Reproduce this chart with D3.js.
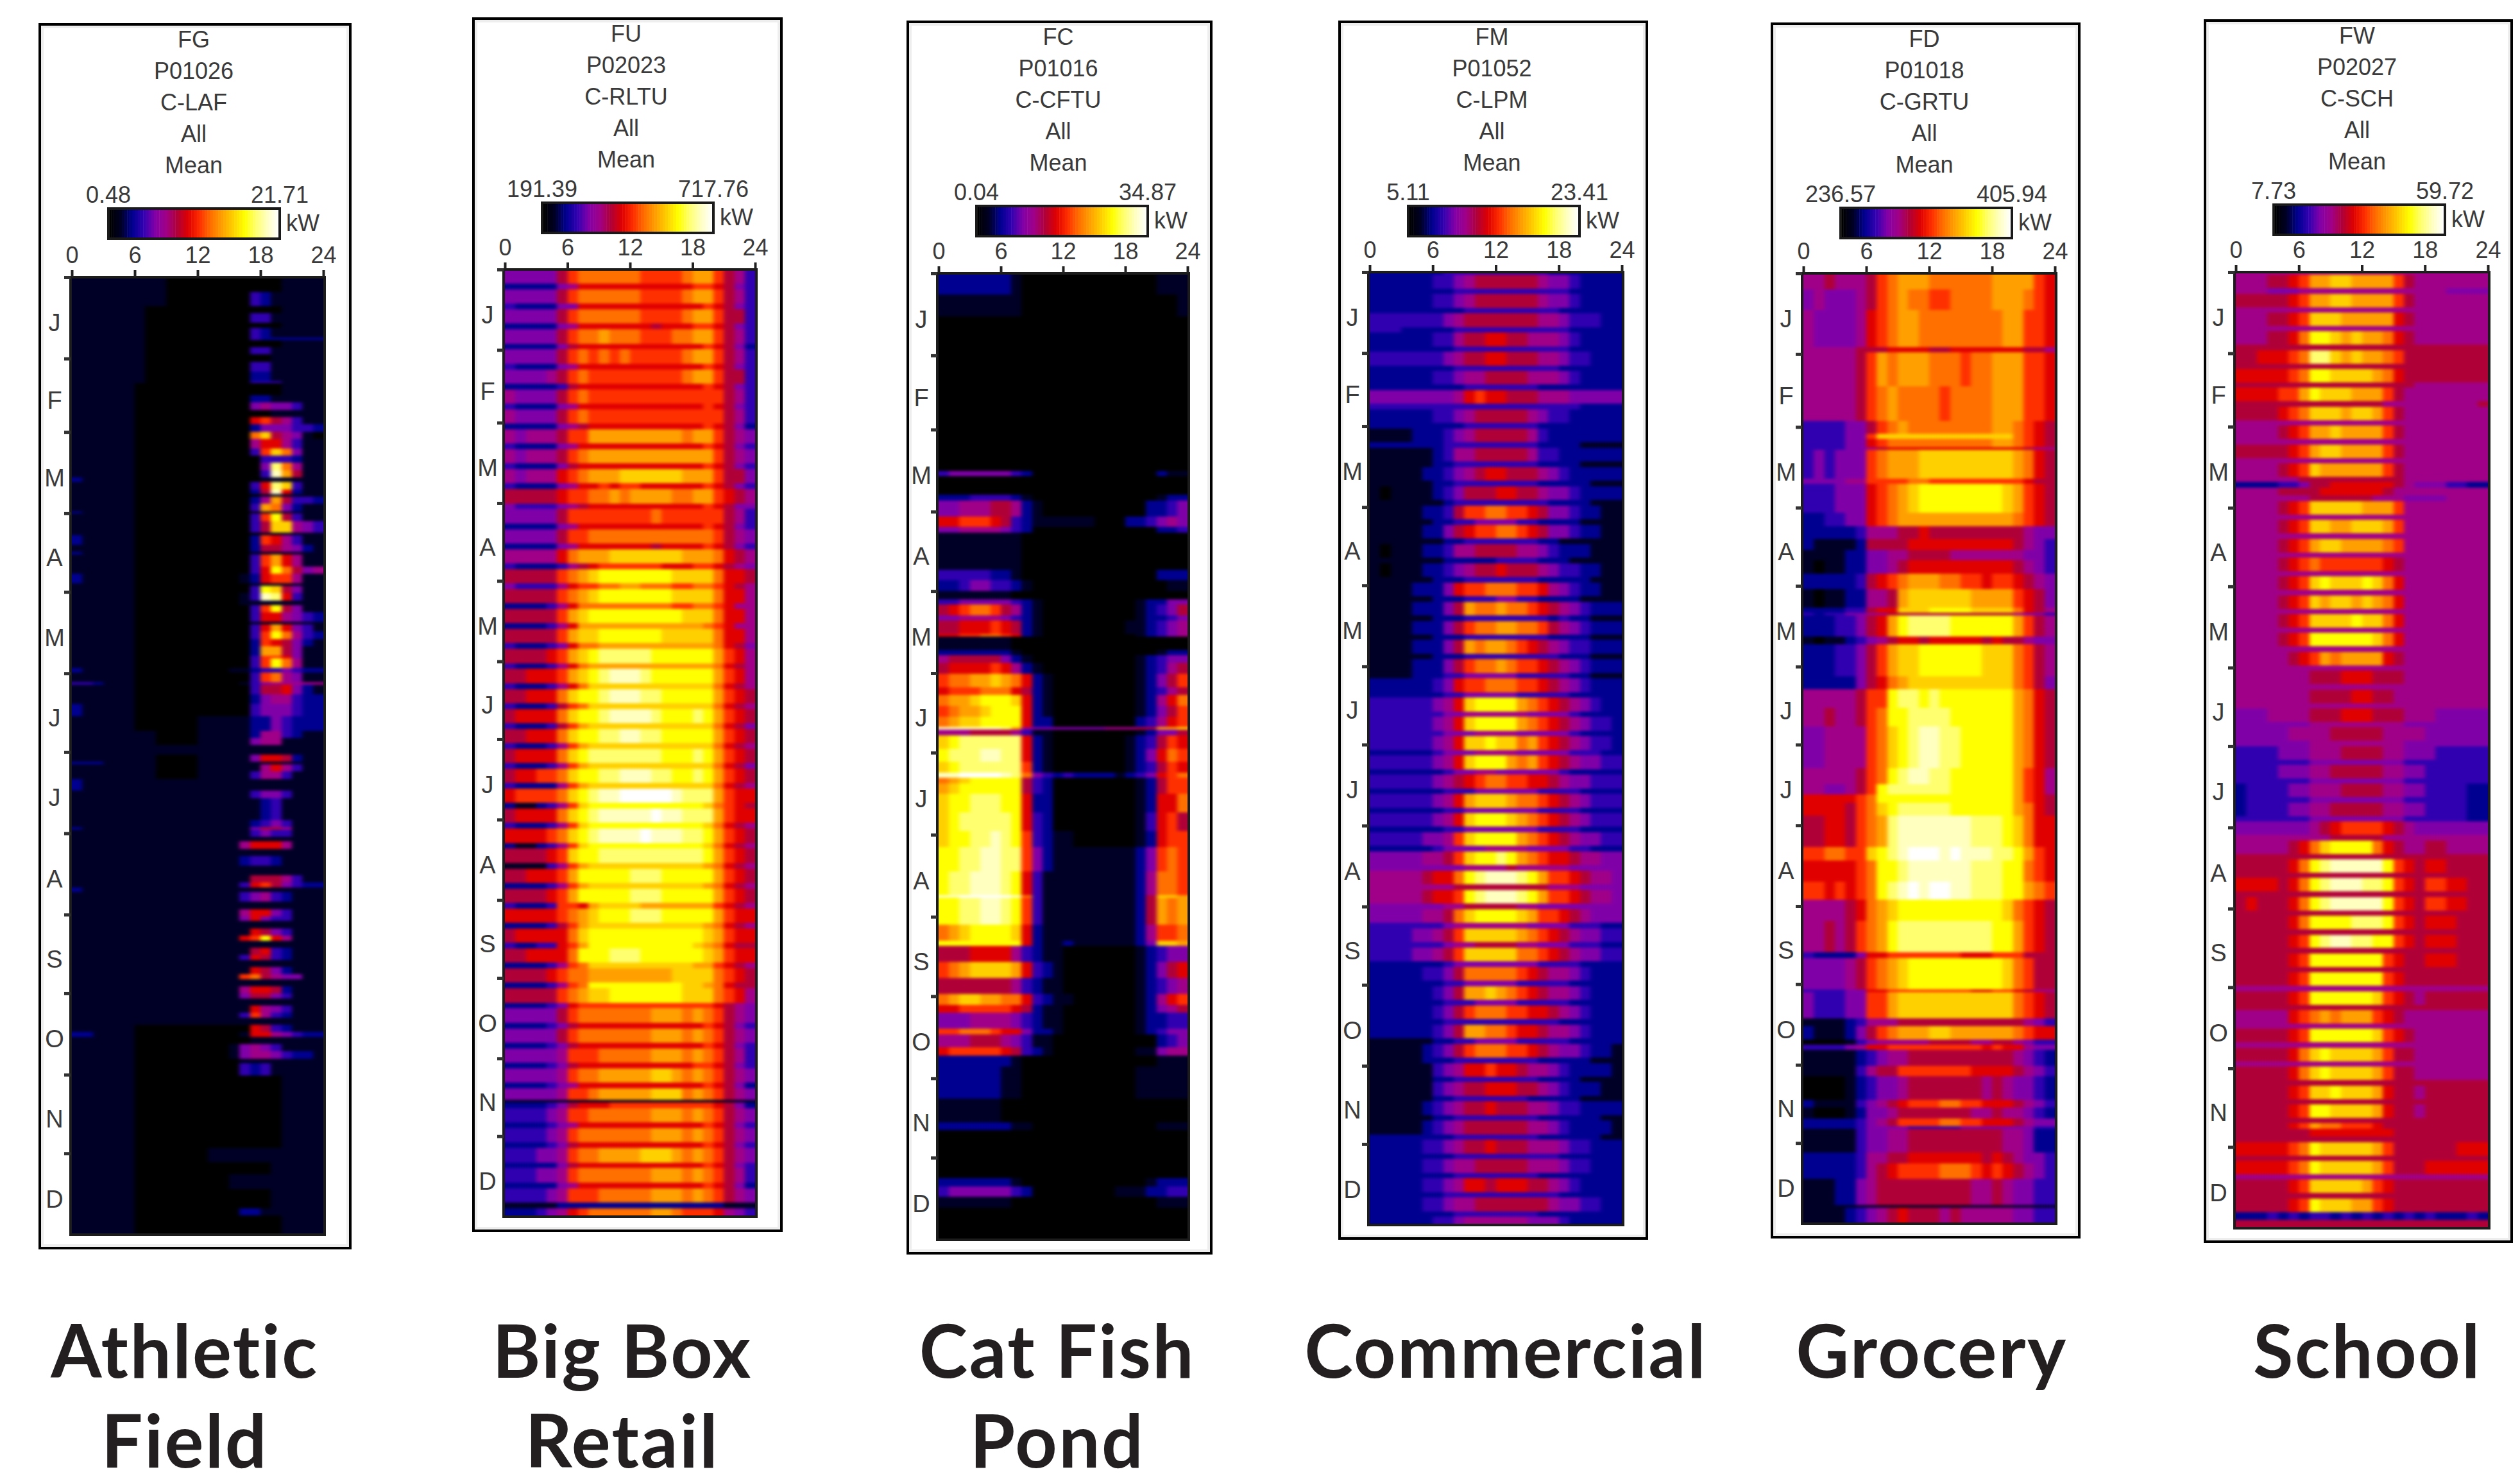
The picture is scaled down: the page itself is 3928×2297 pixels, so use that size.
<!DOCTYPE html>
<html>
<head>
<meta charset="utf-8">
<script src="https://cdn.jsdelivr.net/npm/d3@7"></script>
<style>
body { margin: 0; background: #fff; }
text { font-family: "Liberation Sans", Arial, sans-serif; fill: #3a3a3a; }
.caption { font-family: Lato, sans-serif; font-weight: 700; fill: #231f20; letter-spacing: 2.5px; }
</style>
</head>
<body>
<div id="chart"></div>
<script>
var width = 3928, height = 2297;

var months = ["J","F","M","A","M","J","J","A","S","O","N","D"];
var monthStarts = [0,31,59,90,120,151,181,212,243,273,304,334];
var monthLengths = [31,28,31,30,31,30,31,31,30,31,30,31];
var hourTicks = [0,6,12,18,24];

var feeders = ["FG","FU","FC","FM","FD","FW"];
var circuits = ["P01026","P02023","P01016","P01052","P01018","P02027"];
var rateCodes = ["C-LAF","C-RLTU","C-CFTU","C-LPM","C-GRTU","C-SCH"];
var minKw = [0.48,191.39,0.04,5.11,236.57,7.73];
var maxKw = [21.71,717.76,34.87,23.41,405.94,59.72];
var captions = [["Athletic","Field"],["Big Box","Retail"],["Cat Fish","Pond"],["Commercial"],["Grocery"],["School"]];

// colour bar, low to high
var colorStops = ["#000000","#000026","#000090","#3000b0","#8000a8","#a00088","#b00038","#e00000",
                  "#ff3000","#ff7000","#ffa000","#ffd000","#ffff00","#ffff70","#ffffc0","#ffffff"];

// each row: number of days, then 24 hourly levels (hex, 0 = min kW, f = max kW)
var athleticRows = [
"6 111111 111000 000000 001111","6 111111 111000 000003 211111","3 111111 100000 000000 001111",
"4 111111 100000 000003 311111","2 111111 100000 000000 001111","4 111111 100000 000003 211111",
"1 111111 100000 000003 222222","3 111111 100000 000000 001111","3 111111 100000 000003 311111",
"3 111111 100000 000000 011111","4 111111 100000 000003 311111","4 111111 100000 000002 211111",
"1 111111 100000 000003 331111","5 111111 000000 000000 001111","3 111111 000000 000002 211111",
"3 111111 000000 000004 544311","3 111111 000000 000000 011111","3 111111 000000 000007 865311",
"3 111111 000000 000002 444332","3 111111 000000 000009 b65410","4 111111 000000 000005 775311",
"3 111111 000000 000003 8b9411","3 111111 000000 000000 333211","3 111111 000000 000000 4d9511",
"3 111111 000000 000000 3ea611","2 211111 000000 000000 111111","3 111111 000000 000003 7db311",
"2 111111 000000 000002 6e7211","1 111111 000000 000000 111111","3 111111 000000 000002 5a6332",
"3 111111 000000 000003 a94211","1 211111 000000 000000 111111","3 111111 000000 000003 8c6311",
"5 111111 000000 000003 6bb543","1 111111 000000 000000 111111","4 211111 000000 000002 875311",
"3 111111 000000 000002 665421","1 211111 000000 000001 111111","5 111111 000000 000003 8a7511",
"3 111111 000000 000003 7c9645","4 211111 000000 000012 788511","1 111111 000000 000001 111111",
"3 111111 000000 000003 cb6411","3 111111 000000 000013 ed7311","2 111111 000000 000011 111111",
"3 111111 000000 000003 8c6411","4 111111 000000 000003 775432","1 111111 000000 000001 111111",
"3 111111 000000 000003 7a7431","3 111111 000000 000003 8c9532","3 111111 000000 000002 876421",
"4 111111 000000 000002 aa6411","1 111111 000000 000003 887411","4 111111 000000 000003 8c9511",
"2 211111 000000 000112 334322","4 111111 000000 000003 895411","1 332111 000000 000013 455555",
"4 111111 000000 000003 667421","4 111111 000000 000002 455322","5 211111 000000 000003 444322",
"6 111111 000000 111112 243222","3 111111 110000 111112 553211","3 111111 110000 111114 551111",
"4 111111 111111 111111 111111","3 111111 110000 111114 776211","1 222111 110000 111111 111111",
"3 111111 110000 111111 575311","3 111111 110000 111113 553111","5 211111 111111 111111 111111",
"3 111111 111111 111113 443111","9 111111 111111 111111 231111","3 111111 111111 111112 343111",
"1 211111 111111 111114 665111","3 111111 111111 111113 433111","2 111111 111111 111111 111111",
"3 111111 111111 111157 775111","3 111111 111111 111111 111111","4 111111 111111 111123 321111",
"4 111111 111111 111111 111111","3 111111 111111 111116 665311","2 111111 111111 111137 864322",
"2 211111 111111 111111 111111","4 111111 111111 111134 532111","3 111111 111111 111111 111111",
"3 111111 111111 111157 743111","2 111111 111111 111147 433111","3 111111 111111 111111 111111",
"3 111111 111111 111117 643111","2 111111 111111 111178 c75111","3 111111 111111 111111 111111",
"3 111111 111111 111116 732111","2 111111 111111 111137 632111","3 111111 111111 111111 111111",
"3 111111 111111 111117 642111","2 111111 111111 111189 654411","3 111111 111111 111111 111111",
"3 111111 111111 111157 762111","2 111111 111111 111146 643111","3 111111 111111 111111 111111",
"3 111111 111111 111117 543111","2 111111 111111 111138 532111","3 111111 111111 111111 111111",
"3 111111 000000 000007 632111","2 221111 000000 000017 754322","3 111111 000000 000001 111111",
"3 111111 000000 000145 431111","3 111111 000000 000145 543221","2 111111 000000 000011 111111",
"5 111111 000000 000032 311111","30 111111 000000 000000 001111","6 111111 000000 011111 111111",
"5 111111 000000 000000 011111","6 111111 000000 000111 111111","8 111111 000000 000000 011111",
"3 111111 000000 000022 111111","8 111111 000000 000000 001111"];

var bigBoxRows = [
"5 444446 899999 988889 aa8653","2 222224 577777 777777 887643","5 444446 899999 988889 aa8653","2 322224 477777 777777 787643",
"5 444446 899999 988889 aa8663","2 222224 577777 776777 887643","5 444446 899a99 988899 aa8653","2 222224 677777 777777 787642",
"5 444446 898989 888889 aa8653","2 322224 577777 777777 787643","5 444456 898888 888889 aa8663","2 222223 677777 777777 787643",
"5 544446 898888 888888 888653","2 322224 577777 777777 787643","5 544446 898888 888888 888653","2 222224 567777 777777 787642",
"5 545556 88aaaa aaaaa9 aa8654","2 322224 577777 777777 787643","5 545556 89aaaa aaaaaa aa8654","2 322224 677777 777777 787643",
"5 545557 89aaab bbbbba aa8664","2 322224 577878 877777 787643","5 666667 8899a9 aaaa99 aa8765","2 433334 567777 777777 787644",
"5 444446 888888 889888 888653","2 222224 577777 777777 787643","5 444446 889999 999999 998654","2 222224 577777 776777 787643",
"5 555557 9aaabb bbbbba aa9765","2 322223 567888 888777 887654","5 666668 9abccc ccccbb bb9776","2 433335 78899a a99988 998765",
"5 666668 9abccc ccccbb bb9775","2 222235 799999 999988 998755","5 666668 abcccc cccccb bb9775","2 222235 7aaaaa aaaaaa a98755",
"5 666668 abbccc cccbbb bb9775","2 322234 799aaa aaaaaa aa9764","5 666678 abcddd ddcccc cca875","2 322235 79aaaa aaaaaa aa9765",
"5 667778 abcdee edcccc cca875","2 322235 79bbbb bbbbbb bb9765","5 667779 bccdee eddccc cca876","2 322236 89bbbb bbbbbb bb9765",
"5 677779 bccdee eedccc dca876","2 322236 8abbbb bbbbbb bb9764","5 667779 bccdde eddccc cca876","2 322235 8abbbb bbbbbb bb9765",
"5 677779 bcdddd dddccc dca876","2 322235 8abbbb bbbbbb bb9764","5 677889 bccdde eeddcc dca876","2 322225 8abbbb bbbbbb bb9765",
"5 788889 bcdeef ffffed dda877","2 211235 8bcccc cccccc cb9876","5 677779 bcdeee eefeed dda877","2 322235 8bcccc cccccc cb9765",
"5 777789 bcdeee efeeed dca876","2 211235 8bcccc cccccc cb9765","5 666678 bccddd dddddd dca876","2 111135 8abbbb bbbbbb ba9765",
"5 667778 accccc dddccc cca876","2 222235 8abbbb bbbbbb ba9765","5 666678 accccc dddccc cca876","2 322238 87abbb baaaaa aa8765",
"5 777778 9abccc dddccc cca877","2 222236 8abbbb bbbbbb ba9765","5 677777 9bcccc cccccc cba877","2 322337 8acccc cccccc ba9766",
"5 667777 9cccdd dccccc cba877","2 222235 89bbbb bbbbbb aa8765","5 666678 99aaaa aaaabb bb9876","2 222235 89cccc cccccb ba9766",
"5 666668 9abbcc cccccb bb9875","2 222234 788888 888888 887654","5 444446 899999 99aaa9 a98654","2 222234 677777 777777 787643",
"5 444446 899999 99aaa9 a98654","2 222234 677777 777777 787643","5 444445 888999 99aaa9 a98653","2 222234 677777 777777 887643",
"5 444445 899aaa aabba9 a98654","2 222234 577777 777777 787642","4 444445 889aaa aabbb9 a98654","1 111111 111111 111111 111111",
"2 222234 677788 888888 887642","5 333345 889999 99aaa9 a98654","2 222234 577777 777777 787643","5 333345 899999 99aaa9 a98654",
"2 222234 677777 777777 787643","5 333445 899aaa abbba9 a98654","2 222224 677777 777777 787643","5 333445 899999 99aaa9 a98653",
"2 222224 577777 777777 787642","5 333345 888999 99aaa9 a98654","2 111112 222222 222222 222111","3 222345 789999 99aa98 887543"];

var catFishRows = [
"8 222222 210000 000000 000111","8 111111 110000 000000 000001","58 000000 000000 000000 000000",
"2 344444 432000 000000 000211","7 000000 000000 000000 000000","2 222333 321000 000000 000122",
"6 445556 652100 000000 002234","4 778887 632111 111000 223454","2 445555 432000 000000 000223",
"14 111111 110000 000000 000000","4 333332 210000 000000 000222","4 223443 321000 000000 000011",
"3 111111 100000 000000 000000","2 334444 432100 000000 012244","4 678998 652100 000000 012346",
"2 445555 432100 000000 012234","5 667778 762100 000000 112345","1 778899 872100 000000 012345",
"5 111111 100000 000000 000000","2 222222 210000 000000 000122","3 566666 421000 000000 012344",
"4 677778 752100 000000 012356","5 899aab a97210 000000 012468","3 788899 976210 000000 012356",
"4 9aabcc cb7210 000000 012579","4 89aabc cc7210 000000 012468","4 9abbcc cc7220 000000 023578",
"1 eeeeee da5444 444455 566aab","2 555666 653110 000000 012446","5 bcdddd dd7210 000000 123687",
"5 cdddee dd7210 000000 124798","4 bcdddd dd8210 000000 123687","2 eeffff ed9432 322221 234789",
"2 9abccc cc6320 000000 012688","4 abcccc cc6320 000000 012688","7 bccddd cc7220 000000 012779",
"7 bcdddd dc7320 000000 013786","6 bccdde dc8321 100000 012788","9 ccddee dd8421 111111 124898",
"9 cddeee dc7311 111111 125998","1 eeffff fe9311 111111 126bba","10 ccddee dc8311 111111 126a9a",
"6 9abccc cb7211 111111 125889","2 cccccc cc7211 211111 124bba","6 666777 753211 000000 012344",
"6 89abbb ba7321 000000 012467","6 666666 653211 000000 012345","4 9abbaa 997321 100000 012578",
"3 778888 876211 000000 012456","6 444555 543211 000000 012233","2 889998 774221 000000 012344",
"5 555666 543110 000000 000234","3 788888 763210 000000 011455","4 222222 210000 000000 000111",
"12 222222 110000 000000 011111","9 111111 000000 000000 000000","3 222222 211000 000000 000111",
"18 000000 000000 000000 000000","3 222222 210000 000000 001222","4 344444 432000 000001 112233",
"4 111111 100000 000000 000111","12 000000 000000 000000 000000"];

var commercialRows = [
"1 222222 233333 333332 222222","5 222222 334566 666654 432222","2 222222 223333 333333 322222","5 222222 334566 666654 432222",
"2 222222 222333 333333 222222","5 333333 345666 666655 433322","2 333222 223333 333333 322222","5 222222 335667 766555 432222",
"2 222222 223333 333333 322222","5 333333 345667 766655 433222","2 222222 223333 333333 222222","5 222222 334556 666555 432222",
"2 222222 222333 333322 222222","5 444444 445787 766655 544444","2 333333 333333 333333 332222","5 222222 334566 666543 322222",
"2 222222 222333 333322 222222","5 111122 234566 666532 222222","2 222222 233333 333322 221111","5 111111 235566 666533 222222",
"2 111111 223333 333322 221111","5 111112 234567 766654 322222","2 111111 223333 333322 222111","5 101111 234666 776654 432222",
"2 111111 123333 333332 222111","5 111112 236889 988764 432211","2 111111 223344 443322 221111","5 111112 246788 998764 432211",
"2 111111 122333 333322 111111","5 101112 235566 665543 222111","2 111111 122222 333322 211111","5 101112 234566 766654 332211",
"2 111111 222333 333322 222111","5 111122 247889 998875 432211","2 111111 222333 443322 221111","5 111122 246a99 a99876 543222",
"2 111111 222333 333332 322111","5 111122 246899 aa9986 543222","2 111111 222333 333332 222111","5 111122 246a9a a98765 433222",
"2 111111 222333 333333 222111","5 111122 246899 a98876 543222","2 111122 233444 443333 322111","5 222222 347889 998876 543222",
"2 222222 233444 443333 322222","5 333333 457bcc cca987 654322","2 333333 344555 555444 432222","5 333333 457bcc cca987 654332",
"2 333333 344455 554444 432222","5 333333 457bbc bb9a87 654332","2 222222 344455 554444 433322","5 333333 457bcc ca9a87 654433",
"2 222222 234455 444444 322222","5 333333 456789 988776 544333","2 222222 233344 444433 332222","5 333333 457abb ba9987 654333",
"2 222222 233444 444433 332222","5 333333 457bcc cba987 654333","2 222222 233444 444433 332222","5 333334 458bcc cca987 654433",
"2 222222 344445 555444 433222","5 444445 568bcc dca987 765544","2 444444 444555 565555 544444","5 555556 779cde eedca8 876554",
"2 555555 556666 666665 554444","5 555556 778cde eedca8 876554","2 444444 455666 665544 444444","5 444445 569bcc ccba88 765444",
"2 333333 345555 555444 433322","5 333344 568bbb bba987 654433","2 333333 345566 665544 433322","5 333344 568bbb bb9987 654433",
"2 222222 234444 444433 332222","5 222223 346999 998765 543222","2 222222 233444 443333 322222","5 222222 346aab a98765 543222",
"2 222222 233344 443333 322222","5 222222 346899 988776 543222","2 222222 233333 333333 222222","5 222222 346aa9 987765 543222",
"2 111111 223344 443333 322222","5 111112 346899 988765 443221","2 111112 223333 333322 222111","5 111111 345778 776554 322221",
"2 111111 223333 333322 221111","5 111111 345667 776654 322211","2 111111 223333 333222 221111","5 111112 345667 666554 332222",
"2 111111 223333 333322 222211","5 111112 345666 666554 322221","2 222222 223333 333322 222211","5 222223 345667 666555 433222",
"2 222222 223333 333333 222222","5 222223 345566 666555 433222","2 222222 223333 333322 222222","5 222223 345776 777665 432222",
"2 222222 233333 333333 222222","5 222223 345566 666665 443322","2 222222 223333 333322 222222","3 222222 334555 555444 322222"];

var groceryRows = [
"6 556555 689aaa 999999 aaaa87","8 454445 689a99 889999 aaa987","14 544445 789aa9 999999 9aa887",
"2 555556 667777 667777 777665","13 555556 8a9aaa 999899 aaa887","13 555556 89a999 989999 aaa887",
"5 333344 689a99 999999 aa9876","2 333344 8bbbbb bbbbbb bb9876","3 333344 789999 999999 aa9876",
"1 333344 567777 777777 777655","11 343444 89aaab bbbbbb bba976","2 444455 888899 888888 888766",
"11 333444 789abc cccccc cba876","5 223344 789aaa aaaaaa aa9876","5 222223 555667 666666 666544",
"4 211112 666677 777777 776543","4 111122 445566 665555 555443","5 101122 445677 777777 776543",
"6 222223 6789aa a99887 887654","7 101122 556abb bbbbaa aa8764","2 222233 677bbb ccccbb bb9765",
"1 323344 556666 666666 665443","8 222334 67acdd ddcccc cca865","3 101123 456776 777776 766544",
"12 222334 68abbc cccccb bb9865","5 222224 679abb bbbbbb bb9864","7 555556 88cddc dccccc cca976",
"7 556556 89ccdd ddcccc cca976","16 445555 89bcde eddccc cca976","6 555556 89cdee ddcccc cca875",
"4 554456 8cdddd ddcccc cca875","3 777778 9ccccc cccccc cca876","5 777768 9bcddd ddcccc cca976",
"12 667768 9adeee eeeedd dcb977","5 889988 bcdeff fefeee ddca87","8 777778 9ccdee eeeedd dcc987",
"7 887878 9cdefe ffeedd dcca98","8 555567 9abccc cccccc cb9876","12 556568 9acddd dddddd cca876",
"2 322224 778888 888777 888666","12 444456 89abcc cccccc cb9866","1 333344 778888 888877 887655",
"10 433344 88abbb bbbbbb bb9876","3 111123 555666 666666 666543","5 211124 689aaa bbaaaa aa9877",
"2 000013 455555 666655 665433","2 333345 778888 888887 877544","6 111112 345566 666666 665432",
"4 111113 566888 888877 776543","9 000012 344566 666665 654432","3 211113 456788 899887 776543",
"4 100012 445666 666655 655432","3 222223 456888 899887 776544","1 222223 444433 333444 444433",
"9 111113 445566 666666 655422","4 222223 556677 777776 765443","6 222223 567888 899987 876543",
"10 111224 566666 666655 654433","1 111111 111111 111111 111111","6 111123 456766 656555 554433"];

var schoolRows = [
"1 555555 555555 555555 555555","5 555667 8aabba aaa865 555555","2 555444 555555 555555 554444","5 666667 8aabba aaa865 555555",
"2 555555 555555 555555 555555","5 555667 8bbbaa aaa765 555555","2 555555 555555 555555 555555","5 555667 9ccbab aa9765 555555",
"2 666666 666666 666666 666666","5 667778 9ddbab aa9866 666666","2 666666 666666 666666 666666","5 777778 9ccbbb ba9766 666666",
"2 666666 666666 666665 555555","5 777788 acbbba aa8655 555555","2 666666 666666 665555 555556","5 666678 9bbbab ba8655 555555",
"2 555555 555555 555555 555555","5 555567 8aabaa aa8655 555555","2 555555 555555 555555 555555","5 666667 8abbaa aa8655 555555",
"2 555555 555555 555555 555555","5 555567 8baaaa aa8655 555555","2 555555 666666 666655 555555","2 222233 466777 777654 443322",
"3 555566 667777 776555 555555","2 555555 566666 655544 445555","5 555567 8bbbbb aaa855 555555","2 555555 555555 555555 555555",
"5 555567 8bbaab bba855 555555","2 555555 555555 555555 555555","5 555567 8abbaa aa9855 555555","2 555555 555555 555555 555555",
"5 555567 898888 887655 555555","2 555555 555555 555555 555555","5 555567 8bcbbb cb9755 555555","2 555555 555555 555555 555555",
"5 555567 8babba ba9755 555555","2 555555 555555 555555 555555","5 555567 8bbbbc bb9755 555555","2 555555 555555 555555 555555",
"5 555567 8ccccc cb9755 555555","2 555555 555555 555555 555555","5 555556 78a9aa aa7655 555555","2 555555 555555 555555 555555",
"5 555555 566677 766655 555555","2 555555 555555 555555 555555","5 555555 566667 766555 555555","2 555555 555555 555555 555555",
"5 444555 566677 766655 544444","2 444444 455555 555544 444444","5 444445 555666 665555 444444","2 444444 455555 555544 444444",
"5 333344 455566 665544 433333","2 333333 344444 444433 333333","5 333344 455666 665544 333333","2 333333 344444 444433 333333",
"5 233334 455566 665544 333322","2 233333 344444 444433 333322","5 233334 455666 665544 333322","2 333333 344444 444433 333322",
"5 444444 456788 887654 444444","2 555555 555666 665555 555555","5 555556 79bccc c97655 665555","2 666666 666666 666666 666666",
"5 666667 9cdeee eec876 776666","2 666666 666666 666666 666666","5 777767 9cdeee ddc876 887766","2 666666 666666 666666 666666",
"5 676667 9cdeee eec876 887766","2 666666 666666 666666 666666","5 666667 9ccccd ddc876 777666","2 666666 666666 666666 666666",
"5 666667 8cdeed dcc876 777666","2 666666 666666 666666 666666","5 666667 8ccccc cc8766 777666","2 666666 666666 666666 666666",
"5 666667 8ccccc cc8766 666666","2 555555 555555 555555 555555","5 666667 8ccccc cb8765 666666","2 666666 666666 666666 666666",
"5 555557 89a9aa a87655 555555","2 555555 555555 555555 555555","5 666667 8ccccc cb8765 555555","2 555555 555555 555555 555555",
"5 666667 9bcbbb ba8665 555555","2 555555 555555 555555 555555","5 666667 9bcbbb ba8665 555555","2 666666 666666 666666 666666",
"5 666667 8bbcbb ba7665 666666","2 666666 666666 666666 666666","5 666667 8ccbbb ba7665 666666","2 666666 666666 666666 666666",
"2 666667 8a9988 876666 666666","3 666666 677777 777666 666666","2 666666 666666 666666 666666","5 777778 9cbbbb ba8666 666777",
"2 666666 666666 666666 666666","5 777778 9cbbbb ba8666 777777","2 555555 555555 555555 555555","5 666667 8bbbbb a87666 666666",
"2 666666 666666 666666 666666","5 666667 8cbbba a87666 666666","3 222323 233232 323232 322232","3 666666 666666 666666 666666"];

var allRows = [athleticRows, bigBoxRows, catFishRows, commercialRows, groceryRows, schoolRows];

// frame and plot boxes of the six panels
var frames = [
  {x:60,y:36,w:488,h:1911,px:112,pw:392,pt:432,pb:1924},
  {x:736,y:27,w:484,h:1893,px:787,pw:390,pt:420,pb:1896},
  {x:1413,y:32,w:477,h:1923,px:1463,pw:388,pt:426,pb:1932},
  {x:2086,y:32,w:483,h:1900,px:2135,pw:393,pt:424,pb:1909},
  {x:2760,y:35,w:483,h:1895,px:2811,pw:392,pt:426,pb:1907},
  {x:3435,y:30,w:482,h:1907,px:3485,pw:393,pt:424,pb:1914}
];
var captionX = [288,970,1648,2347,3011,3690];

var svg = d3.select("#chart").append("svg")
    .attr("width", width)
    .attr("height", height);

// the reference is a soft upscale, so the cells get a small blur
var defs = svg.append("defs");
var blur = defs.append("filter").attr("id", "soft")
    .attr("x", "-5%").attr("y", "-5%").attr("width", "110%").attr("height", "110%")
    .attr("color-interpolation-filters", "sRGB");
blur.append("feGaussianBlur").attr("stdDeviation", "3 2");

function parseRows(rows) {
  var start = 0;
  return rows.map(function(r) {
    var parts = r.split(" ");
    var days = +parts[0];
    var levels = parts.slice(1).join("").split("").map(function(c) { return parseInt(c, 16); });
    var row = {start: start, days: days, levels: levels};
    start += days;
    return row;
  });
}

frames.forEach(function(f, i) {
  var g = svg.append("g");
  var rows = parseRows(allRows[i]);
  var total = d3.sum(rows, function(r) { return r.days; });
  var lo = minKw[i], hi = maxKw[i];

  var color = d3.scaleLinear()
      .domain(colorStops.map(function(c, k) { return lo + (hi - lo) * k / 15; }))
      .range(colorStops);
  var x = d3.scaleLinear().domain([0, 24]).range([f.px, f.px + f.pw]);
  var yRows = d3.scaleLinear().domain([0, total]).range([f.pt, f.pb]);
  var y = d3.scaleLinear().domain([0, 365]).range([f.pt, f.pb]);

  // frame
  g.append("rect").attr("x", f.x + 2).attr("y", f.y + 2)
      .attr("width", f.w - 4).attr("height", f.h - 4)
      .attr("fill", "#fff").attr("stroke", "#000").attr("stroke-width", 4);
  g.append("rect").attr("x", f.x + 6).attr("y", f.y + 6)
      .attr("width", f.w - 12).attr("height", f.h - 12)
      .attr("fill", "none").attr("stroke", "#eeeeee").attr("stroke-width", 4);

  // title lines
  var lines = [feeders[i], circuits[i], rateCodes[i], "All", "Mean"];
  var cx = f.x + f.w / 2 - 2;
  g.selectAll(".title").data(lines).enter().append("text")
      .attr("x", cx)
      .attr("y", function(d, k) { return f.y + 38 + k * 49; })
      .attr("text-anchor", "middle")
      .attr("font-size", 36)
      .text(function(d) { return d; });

  // colour bar
  var barX = d3.scaleLinear().domain([lo, hi]).range([f.x + 109, f.x + 376]);
  var steps = d3.range(64).map(function(k) { return lo + (hi - lo) * k / 63; });
  var stepW = (barX.range()[1] - barX.range()[0]) / 64;
  g.selectAll(".bar").data(steps).enter().append("rect")
      .attr("x", function(d) { return barX(lo) + (d - lo) / (hi - lo) * 63 * stepW; })
      .attr("y", f.y + 289)
      .attr("width", stepW + 0.5)
      .attr("height", 47)
      .attr("fill", function(d) { return color(d); });
  g.append("rect").attr("x", barX(lo)).attr("y", f.y + 289)
      .attr("width", barX(hi) - barX(lo)).attr("height", 47)
      .attr("fill", "none").attr("stroke", "#1a1a1a").attr("stroke-width", 4);
  g.append("text").attr("x", barX(lo)).attr("y", f.y + 280)
      .attr("text-anchor", "middle").attr("font-size", 36).text(lo.toFixed(2));
  g.append("text").attr("x", barX(hi)).attr("y", f.y + 280)
      .attr("text-anchor", "middle").attr("font-size", 36).text(hi.toFixed(2));
  g.append("text").attr("x", barX(hi) + 10).attr("y", f.y + 324)
      .attr("font-size", 36).text("kW");

  // cells, clipped to the plot; outer cells run past it so the blur has no pale rim
  defs.append("clipPath").attr("id", "plot" + i).append("rect")
      .attr("x", f.px).attr("y", f.pt).attr("width", f.pw).attr("height", f.pb - f.pt);
  var cells = g.append("g").attr("clip-path", "url(#plot" + i + ")")
      .append("g").attr("filter", "url(#soft)");
  var rowG = cells.selectAll(".row").data(rows).enter().append("g");
  rowG.selectAll("rect").data(function(r) {
      return r.levels.map(function(l, h) { return {hour: h, level: l, row: r}; });
    }).enter().append("rect")
      .attr("x", function(d) { return x(d.hour) - (d.hour === 0 ? 12 : 0); })
      .attr("y", function(d) { return yRows(d.row.start) - (d.row.start === 0 ? 12 : 0); })
      .attr("width", function(d) { return x(d.hour + 1) - x(d.hour) + (d.hour === 0 || d.hour === 23 ? 12 : 0); })
      .attr("height", function(d) {
        var h = yRows(d.row.start + d.row.days) - yRows(d.row.start);
        return h + (d.row.start === 0 || d.row.start + d.row.days === total ? 12 : 0);
      })
      .attr("fill", function(d) { return color(lo + (hi - lo) * d.level / 15); })
      .attr("shape-rendering", "crispEdges");

  g.append("rect").attr("x", f.px - 2).attr("y", f.pt)
      .attr("width", f.pw + 4).attr("height", f.pb - f.pt)
      .attr("fill", "none").attr("stroke", "#1c1c1c").attr("stroke-width", 4);

  // axes
  var hourAxis = d3.axisTop(x).tickValues(hourTicks).tickSize(11).tickPadding(11);
  var ga = g.append("g").attr("transform", "translate(0," + f.pt + ")").call(hourAxis);
  ga.select(".domain").remove();
  ga.selectAll("line").attr("stroke", "#222").attr("stroke-width", 4);
  ga.selectAll("text").attr("font-size", 36).style("font-family", "Liberation Sans").attr("fill", "#3a3a3a");

  var monthAxis = d3.axisLeft(y).tickValues(monthStarts).tickSize(10).tickFormat("");
  var gm = g.append("g").attr("transform", "translate(" + (f.px - 2) + ",0)").call(monthAxis);
  gm.select(".domain").remove();
  gm.selectAll("line").attr("stroke", "#333").attr("stroke-width", 5);

  g.selectAll(".month").data(months).enter().append("text")
      .attr("x", f.px - 27)
      .attr("y", function(d, k) { return y(monthStarts[k] + monthLengths[k] / 2) + 21; })
      .attr("text-anchor", "middle")
      .attr("font-size", 38)
      .text(function(d) { return d; });

  // caption under the panel
  g.selectAll(".caption").data(captions[i]).enter().append("text")
      .attr("class", "caption")
      .attr("x", captionX[i])
      .attr("y", function(d, k) { return 2147 + k * 140; })
      .attr("text-anchor", "middle")
      .attr("font-size", 114)
      .text(function(d) { return d; });
});
</script>
</body>
</html>
